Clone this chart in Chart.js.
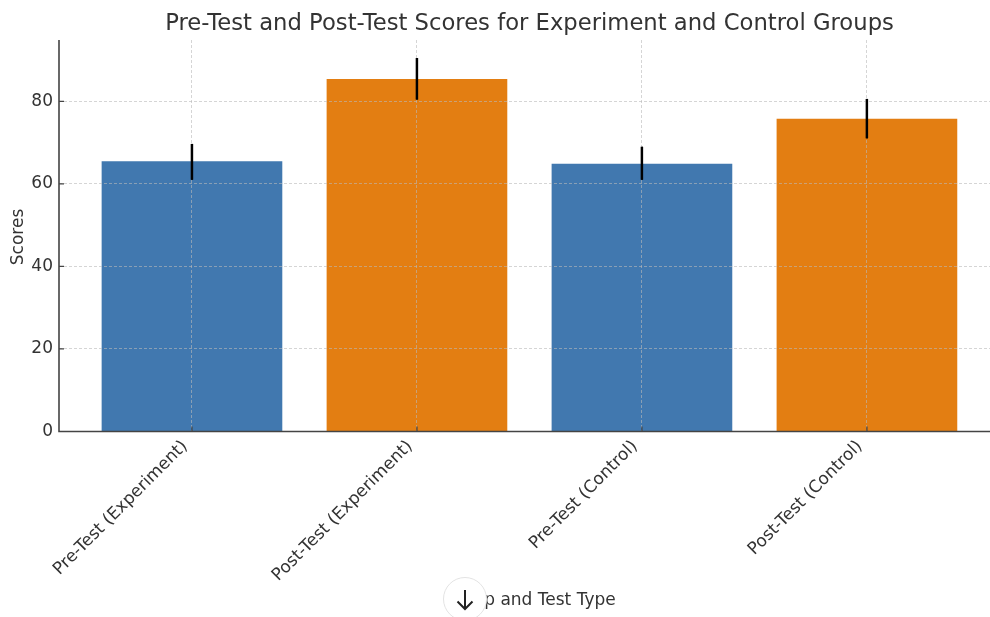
<!DOCTYPE html>
<html lang="en">
<head>
    <meta charset="utf-8">
    <script src="https://cdn.jsdelivr.net/npm/chart.js"></script>
    <style>
        html, body { margin: 0; padding: 0; background: #fff; overflow: hidden; }
        #container { position: relative; width: 990px; height: 617px; overflow: hidden; }
        #myChart { display: block; }
        /* round scroll button that sits on top of the axis title in the original */
        #downButton {
            position: absolute;
            left: 443px;
            top: 577px;
            width: 44px;
            height: 44px;
            box-sizing: border-box;
            border: 1px solid #e3e3e3;
            border-radius: 50%;
            background: #fff;
        }
        #downButton svg { position: absolute; left: 11px; top: 11px; }
    </style>
</head>
<body>
    <div id="container">
        <canvas id="myChart" width="990" height="617"></canvas>
        <div id="downButton">
            <svg width="20" height="22" viewBox="0 0 20 22" fill="none" stroke="#222" stroke-width="2">
                <path d="M10 1 V20 M2.5 12.5 L10 20 L17.5 12.5"></path>
            </svg>
        </div>
    </div>

    <script>
        const labels = ['Pre-Test (Experiment)', 'Post-Test (Experiment)', 'Pre-Test (Control)', 'Post-Test (Control)'];
        const scores = [65.4, 85.3, 64.8, 75.7];
        const errLow = [61.1, 80.5, 61.1, 71.1];
        const errHigh = [69.6, 90.4, 68.9, 80.5];
        const barColors = ['#4178af', '#e37e12', '#4178af', '#e37e12'];
        const textColor = '#333333';
        const fontName = '"DejaVu Sans", sans-serif';

        // spines, inward ticks and the off-centre titles are not something the axes can do
        const decorations = {
            id: 'decorations',
            afterDraw(chart) {
                const { ctx, chartArea, scales } = chart;

                // grid sits on top of the bars, the error bars go back over the grid
                chart.getDatasetMeta(0).controller.draw();

                ctx.save();
                ctx.strokeStyle = '#444444';
                ctx.lineWidth = 1.2;
                ctx.beginPath();
                scales.x.ticks.forEach(t => {
                    const px = scales.x.getPixelForValue(t.value);
                    ctx.moveTo(px, chartArea.bottom);
                    ctx.lineTo(px, chartArea.bottom - 5);
                });
                scales.y.ticks.forEach(t => {
                    const py = scales.y.getPixelForValue(t.value);
                    ctx.moveTo(chartArea.left, py);
                    ctx.lineTo(chartArea.left + 5, py);
                });
                ctx.stroke();

                ctx.lineWidth = 1.6;
                ctx.beginPath();
                ctx.moveTo(chartArea.left, chartArea.top);
                ctx.lineTo(chartArea.left, chartArea.bottom);
                ctx.lineTo(chartArea.right, chartArea.bottom);
                ctx.stroke();

                ctx.fillStyle = textColor;
                ctx.textAlign = 'center';
                ctx.textBaseline = 'middle';
                ctx.font = '22.7px ' + fontName;
                ctx.fillText('Pre-Test and Post-Test Scores for Experiment and Control Groups', 529.5, 24);
                ctx.font = '17px ' + fontName;
                ctx.fillText('Group and Test Type', 529.5, 601);
                ctx.translate(19, 237);
                ctx.rotate(-Math.PI / 2);
                ctx.fillText('Scores', 0, 0);
                ctx.restore();
            }
        };

        const ctx = document.getElementById('myChart').getContext('2d');

        const chart = new Chart(ctx, {
            type: 'bar',
            data: {
                datasets: [{
                    label: 'Error',
                    data: labels.map((l, i) => ({ x: i, y: [errLow[i], errHigh[i]] })),
                    backgroundColor: '#000000',
                    barThickness: 1.6,
                    order: 0
                }, {
                    label: 'Scores',
                    data: labels.map((l, i) => ({ x: i, y: scores[i] })),
                    backgroundColor: barColors,
                    barThickness: 180,
                    order: 1
                }]
            },
            options: {
                responsive: false,
                animation: false,
                grouped: false,
                layout: { padding: { top: 40, right: 0 } },
                plugins: {
                    legend: { display: false },
                    tooltip: { enabled: false },
                    title: { display: false }
                },
                scales: {
                    x: {
                        type: 'linear',
                        offset: false,
                        min: -0.591,
                        max: 3.547,
                        afterBuildTicks(axis) {
                            axis.ticks = labels.map((l, i) => ({ value: i }));
                        },
                        afterFit(axis) {
                            axis.height = 185.5;
                        },
                        ticks: {
                            autoSkip: false,
                            minRotation: 45,
                            maxRotation: 45,
                            padding: 5,
                            labelOffset: -7,
                            color: textColor,
                            font: { family: fontName, size: 17 },
                            callback: value => labels[value]
                        },
                        grid: {
                            z: 1,
                            offset: false,
                            color: 'rgba(185,185,185,0.6)',
                            lineWidth: 1,
                            drawTicks: false
                        },
                        border: { dash: [3, 2], display: false }
                    },
                    y: {
                        min: 0,
                        max: 94.85,
                        afterFit(axis) {
                            axis.width = 59;
                        },
                        ticks: {
                            stepSize: 20,
                            includeBounds: false,
                            padding: 6,
                            color: textColor,
                            font: { family: fontName, size: 17 }
                        },
                        grid: {
                            z: 1,
                            color: 'rgba(185,185,185,0.6)',
                            lineWidth: 1,
                            drawTicks: false
                        },
                        border: { dash: [3, 2], display: false }
                    }
                }
            },
            plugins: [decorations]
        });
    </script>
</body>
</html>
